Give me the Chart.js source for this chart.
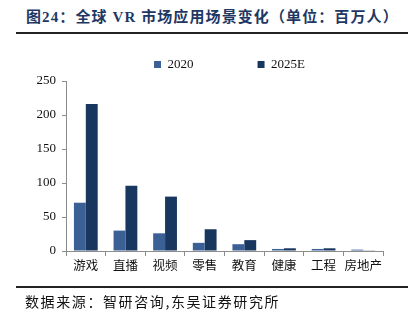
<!DOCTYPE html>
<html>
<head>
<meta charset="utf-8">
<script src="https://cdn.jsdelivr.net/npm/chart.js@4.4.0/dist/chart.umd.min.js"></script>
<style>
  html, body { margin: 0; padding: 0; background: #fff; }
  #wrap { position: relative; width: 419px; height: 321px; overflow: hidden; }
  #chart { position: absolute; left: 0; top: -56px; }
  .title {
    position: absolute; left: 26px; top: 5px;
    font: bold 15px 'Liberation Serif', 'Noto Sans CJK SC', serif;
    color: #1f3763; white-space: nowrap; letter-spacing: 1.1px;
  }
  .rule { position: absolute; left: 16px; width: 392px; height: 2px; background: #222; }
  .source {
    position: absolute; left: 25px; top: 291px;
    font: 14px 'Noto Sans CJK SC', serif; color: #111; white-space: nowrap; letter-spacing: 1.6px;
  }
</style>
</head>
<body>
<div id="wrap">
  <div class="title">图24：全球 VR 市场应用场景变化（单位：百万人）</div>
  <div class="rule" style="top:32px"></div>
  <canvas id="chart" width="419" height="377"></canvas>
  <div class="rule" style="top:286px;height:1.5px"></div>
  <div class="source">数据来源：智研咨询,东吴证券研究所</div>
</div>
<script>
const CATEGORIES = ['游戏', '直播', '视频', '零售', '教育', '健康', '工程', '房地产'];
const VALUES_2020 = [71, 30, 26, 12, 10, 3, 3, 2];
const VALUES_2025 = [216, 96, 80, 32, 16, 4, 4, 1];
const Y_TICKS = [0, 50, 100, 150, 200, 250];

const COLORS = {
  y2020: '#3a6095',
  y2025: '#18375f',
  axis: '#8c8c8c'
};

const FONT = "'Liberation Serif', 'Noto Sans CJK SC', serif";

// nudge the legend a few px right so it sits where the original has it
const legendShift = {
  id: 'legendShift',
  afterLayout(chart) {
    chart.legend.left += 5;
    chart.legend.right += 5;
  }
};

new Chart(document.getElementById('chart').getContext('2d'), {
  type: 'bar',
  data: {
    labels: CATEGORIES,
    datasets: [
      { label: '2020', data: VALUES_2020, backgroundColor: COLORS.y2020 },
      { label: '2025E', data: VALUES_2025, backgroundColor: COLORS.y2025 }
    ]
  },
  options: {
    responsive: false,
    animation: false,
    datasets: { bar: { categoryPercentage: 0.6, barPercentage: 1 } },
    layout: { padding: { top: 50, right: 36, bottom: 40, left: 0 } },
    plugins: {
      legend: {
        fullSize: false,
        labels: {
          boxWidth: 7, boxHeight: 7, padding: 64,
          color: '#111',
          font: { family: FONT, size: 13 }
        }
      },
      tooltip: { enabled: false }
    },
    scales: {
      x: {
        afterFit: s => { s.height = 30; },
        grid: { offset: true, drawOnChartArea: false, drawTicks: true, tickLength: 5, color: COLORS.axis },
        border: { color: COLORS.axis },
        ticks: { color: '#111', font: { family: FONT, size: 12.5 }, padding: 3, maxRotation: 0, autoSkip: false }
      },
      y: {
        min: 0, max: 250,
        afterFit: s => { s.width = 66; },
        afterBuildTicks: s => { s.ticks = Y_TICKS.map(v => ({ value: v })); },
        grid: { drawOnChartArea: false, drawTicks: true, tickLength: 4, color: COLORS.axis },
        border: { color: COLORS.axis },
        ticks: { color: '#111', font: { family: FONT, size: 13 }, padding: 6 }
      }
    }
  },
  plugins: [legendShift]
});
</script>
</body>
</html>
